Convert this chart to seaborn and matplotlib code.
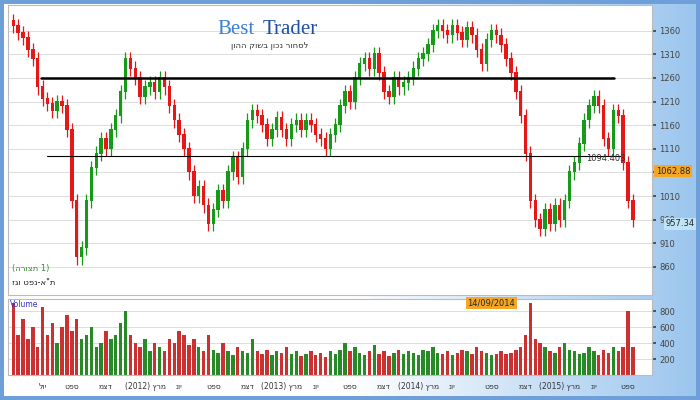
import numpy as np
import pandas as pd
import matplotlib
matplotlib.use("Agg")
import matplotlib.pyplot as plt
import seaborn as sns

closes = [1370,1355,1345,1320,1300,1240,1215,1205,1190,1210,
          1200,1150,1000,880,900,1000,1070,1100,1130,1110,
          1150,1180,1230,1300,1280,1260,1220,1240,1250,1230,
          1260,1240,1200,1170,1140,1110,1060,1010,1030,990,
          950,980,1020,1000,1060,1090,1050,1110,1170,1190,
          1180,1160,1130,1150,1175,1150,1130,1160,1170,1150,
          1170,1160,1140,1130,1110,1140,1160,1200,1230,1210,
          1260,1290,1300,1280,1310,1270,1230,1220,1260,1240,
          1250,1260,1280,1300,1310,1330,1360,1370,1360,1350,
          1370,1355,1340,1365,1350,1320,1290,1340,1360,1350,
          1330,1300,1270,1230,1180,1100,1000,960,940,980,
          950,990,960,1000,1060,1080,1120,1170,1200,1220,
          1200,1130,1110,1190,1180,1080,1000,960]
volumes = [900,500,700,450,600,350,850,500,650,400,
           600,750,550,700,450,500,600,350,400,550,
           450,500,650,800,500,400,350,450,300,400,
           350,300,450,400,550,500,380,450,350,300,
           500,320,280,400,300,250,350,300,280,450,
           300,260,320,250,300,280,350,260,300,240,
           270,300,250,280,230,300,260,320,400,300,
           350,280,250,300,380,260,300,240,280,320,
           260,300,280,250,320,300,350,280,260,300,
           250,280,320,300,260,350,300,280,250,270,
           300,260,280,320,350,500,900,450,400,350,
           300,280,350,400,320,300,260,280,350,300,
           250,320,280,350,300,350,800,350]
tick_idx = [6,12,19,27,34,41,48,55,62,69,76,83,90,98,105,112,119,126]
tick_labels = ["יול","ספט","דצמ","(2012) מרץ","יונ","ספט","דצמ","(2013) מרץ","יונ",
               "ספט","דצמ","(2014) מרץ","יונ","ספט","דצמ","(2015) מרץ","יונ","ספט"]
price_ticks = [860,910,960,1010,1060,1110,1160,1210,1260,1310,1360]
vol_ticks = [200,400,600,800]

def heb(s):
    return s[::-1]

n = len(closes)
opens = [closes[0] + 10] + closes[:-1]
up = [c >= o for c, o in zip(closes, opens)]
GREEN, RED = "#179a17", "#e61717"

sns.set_theme(style="white")
plt.rcParams['font.family'] = ['DejaVu Sans']
fig = plt.figure(figsize=(7, 4), dpi=100)
fig.patch.set_facecolor("#6f9fd8")
bg = fig.add_axes([0.006, 0.01, 0.988, 0.98])
grad = np.linspace(0, 1, 256)[None, :]
bg.imshow(grad, aspect="auto", cmap=matplotlib.colors.LinearSegmentedColormap.from_list("g", ["#ffffff", "#ffffff", "#9cc6ee"]), extent=[0, 1, 0, 1])
bg.set_axis_off()

ax = fig.add_axes([0.012, 0.262, 0.92, 0.726])
axv = fig.add_axes([0.012, 0.062, 0.92, 0.19])
for a in (ax, axv):
    a.set_facecolor("white")
    for s in a.spines.values():
        s.set_color("#bbbbbb"); s.set_linewidth(0.8)

cols = [GREEN if u else RED for u in up]
x = np.arange(n)
lo = [min(o, c) for o, c in zip(opens, closes)]
hi = [max(o, c) for o, c in zip(opens, closes)]
ax.vlines(x, np.array(lo) - 15, np.array(hi) + 15, colors=cols, lw=0.9)
ax.bar(x, np.array(hi) - np.array(lo) + 2, bottom=lo, width=0.7, color=cols, lw=0)
ax.set_xlim(-1, n + 3)
ax.set_ylim(800, 1415)
ax.yaxis.tick_right()
ax.set_yticks(price_ticks)
ax.tick_params(axis="y", labelsize=6, colors="#444444", length=3, pad=2)
ax.set_xticks([])
ax.grid(axis="y", color="#dddddd", lw=0.7)
ax.axhline(1260, xmin=0.05, xmax=0.94, color="black", lw=1.8)
ax.axhline(1094.403, xmin=0.06, xmax=0.95, color="black", lw=0.8)
ax.text(117.5, 1084, "1094.403", fontsize=6, color="#333333")
ax.text(1.005, (1062.88 - 800) / 615, "1062.88", transform=ax.transAxes, fontsize=6,
        va="center", bbox=dict(boxstyle="square,pad=0.2", fc="#f5a623", ec="none"))
ax.text(1.02, (957.34 - 800) / 615 - 0.01, "957.34", transform=ax.transAxes, fontsize=6,
        va="center", bbox=dict(boxstyle="square,pad=0.2", fc="#bfe3f7", ec="none"))
ax.text(0.005, 0.085, "(" + heb("תצורה") + " 1)", transform=ax.transAxes, fontsize=6, color="#3a8a3a")
ax.text(0.005, 0.035, heb('ת"א-נפט וגז'), transform=ax.transAxes, fontsize=6, color="#222222")
fig.text(0.31, 0.915, "Best", fontsize=15, color="#3a7fd5", family="Liberation Serif")
fig.text(0.375, 0.915, "Trader", fontsize=15, color="#1f4fa0", family="Liberation Serif")
fig.text(0.44, 0.88, heb("לסחור נכון בשוק ההון"), fontsize=6, color="#333333", ha="right")

df = pd.DataFrame({"i": x, "v": volumes, "d": ["up" if u else "down" for u in up]})
sns.barplot(data=df, x="i", y="v", hue="d", palette={"up": GREEN, "down": RED},
            dodge=False, legend=False, width=0.7, ax=axv, native_scale=True, linewidth=0)
axv.set_xlim(-1, n + 3)
axv.set_ylim(0, 950)
axv.yaxis.tick_right()
axv.set_yticks(vol_ticks)
axv.tick_params(axis="y", labelsize=6, colors="#444444", length=3, pad=2)
axv.grid(axis="y", color="#dddddd", lw=0.7)
axv.set_xlabel(""); axv.set_ylabel("")
axv.set_xticks(tick_idx)
axv.set_xticklabels([heb(t) if "(" not in t else t.split(" ")[0] + " " + heb(t.split(" ")[1]) for t in tick_labels],
                    fontsize=5.5, color="#333333")
axv.tick_params(axis="x", length=3, pad=2)
axv.text(0.003, 0.9, "Volume", transform=axv.transAxes, fontsize=5.5, color="#3333cc")
axv.text(98, 900, "14/09/2014", fontsize=6, ha="center", va="center",
         bbox=dict(boxstyle="square,pad=0.2", fc="#f5a623", ec="none"))
fig.savefig("out.png", dpi=100, facecolor=fig.get_facecolor())
